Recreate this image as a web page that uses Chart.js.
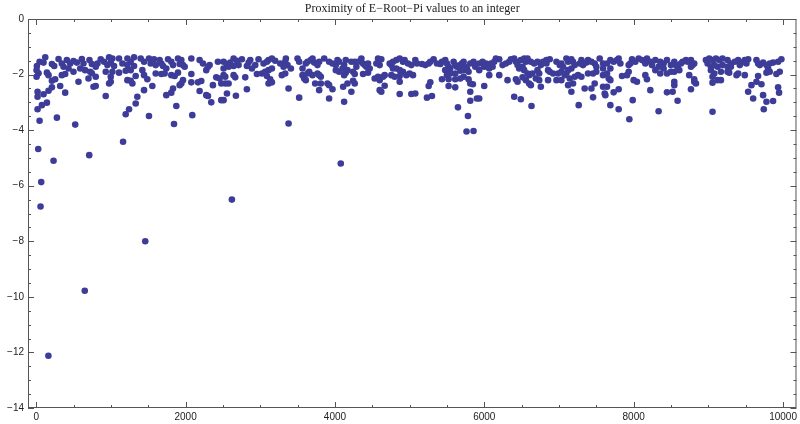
<!DOCTYPE html>
<html>
<head>
<meta charset="utf-8">
<title>Proximity of E-Root-Pi values to an integer</title>
<script src="https://cdn.jsdelivr.net/npm/chart.js@4.4.0/dist/chart.umd.min.js"></script>
<style>
  html, body { margin: 0; padding: 0; background: #fff; }
  #wrap { width: 800px; height: 424px; }
</style>
</head>
<body>
<div id="wrap"><canvas id="plot" width="800" height="424"></canvas></div>
<script>
// [n, log10 distance of e^(pi*sqrt(n)) to nearest integer]
const seg0 = [[121,-1.38],[299,-1.44],[410,-1.48],[499,-1.51],[611,-1.44],[713,-1.48],[45,-1.54],[9,-1.69],[98,-1.57],[210,-1.62],[241,-1.69],[343,-1.6],[366,-1.72],[455,-1.6],[544,-1.57],[633,-1.6],[745,-1.62],[5,-1.84],[31,-1.95],[5,-2.08],[143,-1.93],[165,-2.02],[388,-1.98],[499,-1.9],[589,-1.78],[655,-1.84],[722,-1.9],[566,-2.26],[745,-1.95],[254,-2.17],[210,-2.22],[343,-2.02],[433,-1.78],[321,-2.41],[210,-2.46],[165,-2.58],[388,-2.65],[18,-2.62],[98,-2.71],[18,-2.8],[143,-3.01],[76,-3.1],[18,-3.25],[45,-3.66],[277,-3.55],[522,-3.8],[767,-2.44],[700,-2.14]];
const seg1 = [[864,-1.45],[976,-1.38],[1020,-1.42],[1109,-1.42],[1221,-1.42],[1310,-1.38],[1399,-1.42],[1510,-1.42],[1577,-1.45],[820,-1.6],[909,-1.54],[998,-1.57],[953,-1.66],[1042,-1.69],[1154,-1.6],[1221,-1.66],[1265,-1.54],[1310,-1.69],[1444,-1.54],[1533,-1.6],[1600,-1.66],[797,-1.72],[797,-2.08],[931,-1.9],[998,-2.08],[1020,-1.9],[1109,-1.93],[1198,-1.86],[1265,-1.84],[1421,-1.84],[1600,-1.96],[1332,-2.05],[1444,-2.02],[1488,-2.17],[1221,-2.2],[1265,-2.22],[1288,-2.32],[998,-2.26],[976,-2.32],[797,-2.41],[1555,-2.41],[1444,-2.56],[1354,-2.8],[1332,-3.04],[1243,-3.25],[1198,-3.43],[1510,-3.49],[931,-2.77]];
const seg2 = [[1653,-1.48],[1676,-1.6],[1765,-1.45],[1809,-1.54],[1898,-1.42],[1943,-1.48],[2077,-1.42],[2188,-1.48],[2233,-1.6],[2300,-1.72],[2322,-1.66],[2433,-1.54],[1698,-1.69],[1742,-1.78],[1832,-1.66],[1921,-1.62],[1965,-1.66],[1988,-1.72],[1720,-1.96],[1676,-1.98],[1809,-2.02],[1854,-2.05],[1898,-1.93],[2077,-1.98],[2277,-1.84],[2411,-2.1],[2456,-2.14],[1965,-2.2],[1943,-2.32],[1921,-2.38],[2077,-2.28],[2166,-2.28],[2210,-2.23],[2366,-2.38],[2478,-2.32],[1832,-2.5],[1809,-2.65],[1742,-2.74],[2188,-2.59],[2277,-2.74],[2300,-2.77],[2344,-3.0],[1876,-3.13],[2090,-3.46],[1845,-3.78],[2478,-2.92]];
const seg3 = [[2509,-1.54],[2554,-1.62],[2598,-1.57],[2643,-1.42],[2688,-1.5],[2710,-1.66],[2754,-1.45],[2844,-1.57],[2866,-1.48],[2933,-1.66],[2977,-1.45],[3044,-1.6],[3089,-1.54],[3111,-1.48],[3156,-1.42],[3200,-1.5],[3267,-1.6],[3312,-1.72],[3334,-1.54],[2509,-1.78],[2576,-1.72],[2643,-1.69],[2821,-1.69],[2888,-1.78],[2955,-1.98],[3022,-1.96],[3066,-1.9],[3111,-1.84],[3156,-1.78],[2509,-2.02],[2532,-2.08],[2643,-2.02],[2665,-2.1],[2799,-2.1],[3089,-2.05],[3133,-2.17],[3156,-2.28],[3111,-2.32],[3289,-2.02],[3334,-1.96],[2532,-2.32],[2576,-2.32],[2554,-2.68],[2509,-2.92],[2674,-2.76],[2821,-2.53]];
const seg4 = [[3343,-1.42],[3365,-1.66],[3410,-1.78],[3499,-1.42],[3521,-1.54],[3566,-1.78],[3610,-1.6],[3633,-1.54],[3677,-1.48],[3700,-1.42],[3722,-1.57],[3766,-1.66],[3789,-1.54],[3856,-1.42],[3922,-1.54],[3967,-1.6],[4012,-1.66],[4034,-1.48],[4056,-1.54],[4101,-1.78],[4145,-1.48],[4123,-1.66],[4168,-1.84],[3566,-2.02],[3588,-2.14],[3610,-2.2],[3633,-1.96],[3655,-1.9],[3700,-2.02],[3766,-1.96],[3789,-2.02],[3811,-2.08],[4012,-1.84],[4056,-1.9],[4123,-2.02],[4145,-1.93],[3735,-2.32],[3811,-2.32],[3900,-2.32],[3922,-2.38],[3789,-2.56],[3967,-2.53],[4110,-2.44],[4168,-2.32],[3379,-2.5],[3521,-2.83],[3922,-2.86],[4123,-2.98],[3379,-3.76]];
const seg5 = [[4220,-1.54],[4265,-1.54],[4309,-1.54],[4354,-1.42],[4376,-1.6],[4399,-1.66],[4443,-1.6],[4421,-1.72],[4465,-1.78],[4287,-1.72],[4243,-1.9],[4265,-1.98],[4376,-1.98],[4443,-1.93],[4577,-1.42],[4621,-1.45],[4599,-1.66],[4555,-1.6],[4733,-1.6],[4755,-1.66],[4777,-1.54],[4822,-1.48],[4867,-1.42],[4911,-1.54],[4933,-1.48],[4978,-1.6],[5023,-1.66],[4822,-1.78],[4777,-1.78],[4867,-1.84],[4911,-1.9],[4956,-2.02],[5000,-1.96],[5045,-2.02],[4532,-2.14],[4577,-2.08],[4599,-2.2],[4644,-2.08],[4666,-2.02],[4755,-2.02],[4800,-2.08],[4867,-2.05],[4243,-2.22],[4265,-2.32],[4666,-2.4],[4867,-2.26],[4220,-2.62],[4599,-2.56],[4621,-2.62],[4867,-2.7],[5023,-2.7]];
const seg6 = [[5076,-1.48],[5099,-1.6],[5165,-1.62],[5210,-1.66],[5255,-1.6],[5277,-1.54],[5321,-1.45],[5366,-1.6],[5411,-1.62],[5433,-1.54],[5477,-1.48],[5500,-1.6],[5522,-1.72],[5544,-1.78],[5589,-1.54],[5611,-1.66],[5633,-1.72],[5678,-1.66],[5700,-1.6],[5723,-1.54],[5745,-1.72],[5767,-1.78],[5812,-1.6],[5856,-1.54],[5879,-1.72],[5477,-1.84],[5500,-2.02],[5544,-1.96],[5611,-1.96],[5678,-1.86],[5723,-1.84],[5789,-1.9],[5723,-2.08],[5433,-2.17],[5522,-2.17],[5611,-2.17],[5678,-2.14],[5789,-2.17],[5277,-2.28],[5255,-2.41],[5522,-2.41],[5611,-2.46],[5812,-2.32],[5847,-2.35],[5812,-2.62],[5076,-2.68],[5232,-2.83],[5299,-2.77],[5812,-2.94],[5647,-3.18],[5781,-3.49],[5901,-2.86]];
const seg7 = [[5932,-1.6],[5977,-1.54],[6021,-1.6],[6044,-1.66],[6088,-1.6],[6111,-1.72],[6133,-1.54],[6066,-1.78],[5999,-1.72],[6155,-1.42],[6200,-1.45],[6244,-1.66],[6289,-1.6],[6333,-1.54],[6356,-1.45],[6400,-1.42],[6423,-1.54],[6445,-1.66],[6489,-1.48],[6534,-1.42],[6556,-1.54],[6579,-1.42],[6623,-1.54],[6668,-1.6],[6712,-1.54],[6757,-1.66],[6467,-1.78],[6512,-1.72],[6534,-1.84],[6579,-1.96],[6601,-2.02],[6645,-1.96],[6712,-1.84],[6735,-1.96],[5932,-1.84],[6066,-2.02],[6200,-2.02],[6311,-2.2],[6423,-2.17],[6445,-2.26],[6512,-2.1],[6556,-2.2],[6601,-2.32],[6623,-2.38],[6690,-2.14],[6735,-2.2],[6757,-2.44],[5999,-2.41],[5932,-2.86],[6400,-2.8],[6489,-2.89],[6632,-3.13]];
const seg8 = [[6787,-1.54],[6832,-1.48],[6876,-1.45],[6832,-1.6],[6966,-1.54],[7010,-1.66],[7032,-1.6],[7055,-1.72],[7099,-1.42],[7122,-1.54],[7166,-1.45],[7188,-1.54],[7211,-1.66],[7278,-1.6],[7300,-1.48],[7322,-1.66],[7367,-1.57],[7389,-1.48],[7434,-1.54],[7478,-1.6],[7500,-1.72],[7545,-1.42],[7590,-1.6],[7590,-1.78],[6854,-1.84],[6876,-1.9],[6921,-1.96],[6988,-1.96],[7032,-1.9],[7077,-2.02],[7099,-1.96],[7122,-1.84],[7166,-1.78],[7211,-2.08],[7255,-2.02],[7300,-2.08],[7389,-1.96],[7456,-1.96],[7500,-1.9],[7590,-2.02],[6854,-2.2],[6966,-2.2],[7032,-2.2],[7122,-2.38],[7144,-2.14],[7188,-2.32],[7166,-2.62],[7344,-2.5],[7434,-2.5],[7478,-2.32],[7590,-2.44],[7612,-2.68],[7456,-2.82],[7264,-3.1]];
const seg9 = [[7643,-1.6],[7688,-1.48],[7732,-1.54],[7777,-1.48],[7822,-1.6],[7799,-1.42],[7933,-1.66],[7978,-1.45],[8022,-1.54],[8067,-1.42],[8111,-1.48],[8156,-1.6],[8178,-1.42],[8223,-1.54],[8245,-1.66],[8290,-1.48],[8334,-1.72],[8356,-1.54],[8401,-1.6],[8446,-1.48],[7955,-1.6],[7688,-1.78],[7643,-1.96],[7666,-2.14],[7688,-2.2],[7844,-2.05],[7911,-2.02],[7933,-1.9],[8000,-2.2],[8044,-2.26],[8156,-2.02],[8178,-2.17],[8290,-1.84],[8356,-1.96],[8446,-1.96],[8401,-1.78],[7643,-2.44],[7732,-2.64],[7799,-2.53],[7621,-2.74],[8223,-2.56],[8446,-2.64],[7688,-3.1],[7799,-3.25],[7987,-2.92],[7942,-3.61],[8334,-3.32]];
const seg10 = [[8499,-1.66],[8544,-1.54],[8566,-1.66],[8588,-1.72],[8544,-1.9],[8499,-1.9],[8633,-1.6],[8655,-1.54],[8700,-1.48],[8722,-1.54],[8767,-1.48],[8789,-1.66],[8811,-1.6],[8611,-1.84],[8744,-2.02],[8767,-1.72],[8811,-2.26],[8834,-2.32],[8811,-2.17],[8544,-2.26],[8544,-2.38],[8522,-2.62],[8588,-2.94],[8767,-2.53],[8967,-1.48],[9012,-1.42],[9056,-1.48],[9101,-1.42],[9146,-1.48],[9190,-1.42],[9257,-1.48],[9302,-1.6],[8990,-1.6],[9034,-1.72],[9079,-1.66],[9123,-1.72],[9190,-1.66],[9257,-1.72],[9302,-1.72],[9034,-1.84],[9079,-1.96],[9168,-1.9],[9257,-1.9],[9279,-1.93],[9056,-2.08],[9123,-2.2],[9168,-2.2],[9056,-2.29],[9056,-3.34]];
const seg11 = [[9354,-1.54],[9399,-1.48],[9443,-1.57],[9488,-1.48],[9533,-1.45],[9510,-1.6],[9421,-1.66],[9644,-1.48],[9666,-1.6],[9689,-1.66],[9733,-1.57],[9778,-1.66],[9822,-1.6],[9867,-1.57],[9934,-1.54],[9978,-1.45],[9800,-1.78],[9822,-1.9],[9778,-1.93],[9911,-1.98],[9956,-1.9],[9399,-1.96],[9377,-2.02],[9488,-2.02],[9666,-2.05],[9644,-2.26],[9711,-2.35],[9577,-2.38],[9533,-2.62],[9600,-2.86],[9733,-2.74],[9778,-2.98],[9867,-2.95],[9934,-2.46],[9947,-2.65],[9742,-3.25]];
// the near-integers far below the band
const outliers = [[27,-4.68],[67,-5.87],[58,-6.75],[163,-12.12],[232,-5.1],[650,-9.78],[710,-4.9],[1163,-4.42],[1460,-8.0],[2620,-6.5],[4078,-5.2],[5762,-4.05],[5856,-4.03]];

const xTicks = [0, 2000, 4000, 6000, 8000, 10000];
const yTicks = [0, -2, -4, -6, -8, -10, -12, -14];
const titleText = 'Proximity of E\u2212Root\u2212Pi values to an integer';

const dotColor = '#3d3d99';
const frameColor = '#555';

const allPoints = [seg0, seg1, seg2, seg3, seg4, seg5, seg6, seg7, seg8, seg9, seg10, seg11, outliers]
  .flat()
  .map(p => ({ x: p[0], y: p[1] }));

// mathematica-ish frame with inward ticks on all four sides
const framePlugin = {
  id: 'frame',
  afterDraw(chart) {
    const { ctx, chartArea: a } = chart;
    const xs = chart.scales.x, ys = chart.scales.y;
    ctx.save();
    ctx.strokeStyle = frameColor;
    ctx.lineWidth = 1;
    ctx.strokeRect(a.left + 0.5, a.top + 0.5, a.right - a.left - 1, a.bottom - a.top - 1);
    ctx.beginPath();
    for (let v = 0; v <= 10000; v += 500) {
      const len = v % 2000 === 0 ? 6 : 3;
      const px = Math.round(xs.getPixelForValue(v)) + 0.5;
      ctx.moveTo(px, a.bottom); ctx.lineTo(px, a.bottom - len);
      ctx.moveTo(px, a.top); ctx.lineTo(px, a.top + len);
    }
    for (let v = 0; v >= -14; v -= 0.5) {
      const len = v % 2 === 0 ? 6 : 3;
      const py = Math.round(ys.getPixelForValue(v)) + 0.5;
      ctx.moveTo(a.left, py); ctx.lineTo(a.left + len, py);
      ctx.moveTo(a.right, py); ctx.lineTo(a.right - len, py);
    }
    ctx.stroke();
    ctx.restore();
  }
};

const fmt = v => (v < 0 ? '\u2212' + Math.abs(v) : String(v));

new Chart(document.getElementById('plot').getContext('2d'), {
  type: 'scatter',
  data: {
    datasets: [{
      data: allPoints,
      backgroundColor: dotColor,
      borderWidth: 0,
      pointRadius: 3.3,
      pointHoverRadius: 3.3
    }]
  },
  options: {
    responsive: false,
    animation: false,
    devicePixelRatio: 1,
    layout: { padding: { left: 0, right: 3, top: 0, bottom: 0 } },
    plugins: {
      legend: { display: false },
      tooltip: { enabled: false },
      title: {
        display: true,
        text: titleText,
        fullSize: false,
        color: '#222',
        font: { family: 'Liberation Serif', size: 12, weight: 'normal' },
        padding: { top: 2, bottom: 2.6 }
      }
    },
    scales: {
      x: {
        type: 'linear',
        min: -110,
        max: 10180,
        grid: { display: false, drawTicks: false },
        border: { display: false },
        afterBuildTicks: s => { s.ticks = xTicks.map(v => ({ value: v })); },
        afterFit: s => { s.height = 16; },
        ticks: {
          padding: 3,
          color: '#222',
          font: { family: 'Liberation Sans', size: 10 },
          maxRotation: 0,
          callback: v => fmt(v)
        }
      },
      y: {
        type: 'linear',
        min: -14,
        max: 0,
        grid: { display: false, drawTicks: false },
        border: { display: false },
        afterBuildTicks: s => { s.ticks = yTicks.map(v => ({ value: v })); },
        afterFit: s => { s.width = 28; },
        ticks: {
          padding: 4,
          color: '#222',
          font: { family: 'Liberation Sans', size: 10 },
          callback: v => fmt(v)
        }
      }
    }
  },
  plugins: [framePlugin]
});
</script>
</body>
</html>
